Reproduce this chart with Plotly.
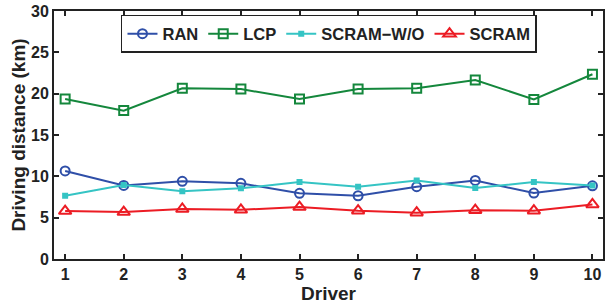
import plotly.graph_objects as go

drivers = [1, 2, 3, 4, 5, 6, 7, 8, 9, 10]
ran = [10.65, 8.9, 9.4, 9.15, 7.95, 7.65, 8.75, 9.5, 7.98, 8.85]
lcp = [19.35, 17.95, 20.65, 20.55, 19.35, 20.55, 20.65, 21.65, 19.3, 22.35]
scram_wo = [7.65, 8.95, 8.2, 8.55, 9.3, 8.75, 9.5, 8.6, 9.3, 8.9]
scram = [5.8, 5.68, 6.05, 5.95, 6.28, 5.85, 5.6, 5.9, 5.85, 6.6]

series = [
    ("RAN", ran, "#2f4fa8", "circle-open", 9),
    ("LCP", lcp, "#14873c", "square-open", 9),
    ("SCRAM\u2212W/O", scram_wo, "#35c4c4", "square", 4),
    ("SCRAM", scram, "#ec1c24", "triangle-up-open", 11),
]

FAM = "Liberation Sans, Arial, sans-serif"
INK = "#222222"

fig = go.Figure()
for name, vals, color, sym, size in series:
    fig.add_trace(go.Scatter(
        x=drivers, y=vals, name=name, mode="lines+markers",
        line=dict(color=color, width=2),
        marker=dict(symbol=sym, size=size, color=color, line=dict(color=color, width=2)),
    ))

tickfont = dict(family=FAM, size=16, color=INK, weight="bold")
titlefont = dict(family=FAM, size=19, color=INK, weight="bold")

fig.update_layout(
    width=605, height=305,
    margin=dict(l=54, r=2, t=11, b=46),
    paper_bgcolor="white", plot_bgcolor="white",
    font=tickfont,
    showlegend=True,
    legend=dict(
        orientation="h", x=0.122, y=0.984, xanchor="left", yanchor="top",
        bordercolor=INK, borderwidth=1.5, bgcolor="white",
        font=dict(family=FAM, size=16.5, color=INK, weight="bold"),
        tracegroupgap=0,
    ),
    xaxis=dict(
        range=[0.81, 10.18], tickmode="array", tickvals=drivers,
        ticks="inside", ticklen=5, tickwidth=1.5, tickcolor=INK,
        showline=True, linecolor=INK, linewidth=2, mirror="allticks",
        showgrid=False, zeroline=False, automargin=False,
        title=dict(text="Driver", font=titlefont, standoff=0),
        tickfont=tickfont,
    ),
    yaxis=dict(
        range=[0, 30], tickmode="array", tickvals=[0, 5, 10, 15, 20, 25, 30],
        ticks="inside", ticklen=5, tickwidth=1.5, tickcolor=INK,
        showline=True, linecolor=INK, linewidth=2, mirror="allticks",
        showgrid=False, zeroline=False, automargin=False,
        title=dict(text="Driving distance (km)", font=titlefont, standoff=0),
        tickfont=tickfont,
    ),
)

# remove the default 8px page margin so the figure fills the window exactly
fig.write_html(
    "out.html",
    config={"displayModeBar": False},
    post_script="document.body.style.margin='0';",
)
